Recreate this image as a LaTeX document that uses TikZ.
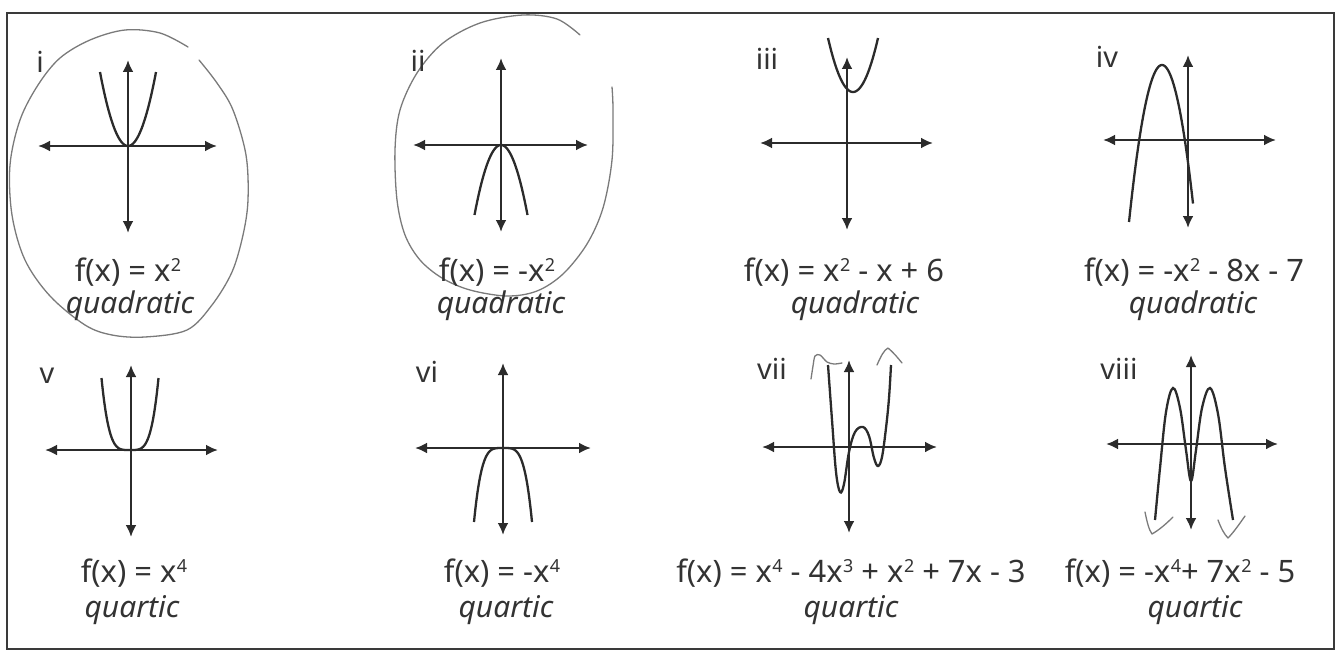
\documentclass[tikz,border=0pt]{standalone}
\usepackage{fontspec}
\setmainfont{Noto Sans}
\usetikzlibrary{arrows.meta}
\definecolor{axcol}{HTML}{2B2B2B}
\definecolor{txtcol}{HTML}{333333}
\definecolor{handcol}{HTML}{7A7A7A}
\definecolor{bordercol}{HTML}{3A3A3A}
\newcommand\sq[1]{\kern0.5bp\raisebox{10bp}{\fontsize{18}{18}\selectfont #1}}
\newcommand\myaxes[8]{%
  \coordinate (#1L) at (#2,#3); \coordinate (#1R) at (#4,#3);
  \coordinate (#1T) at (#5,#6); \coordinate (#1B) at (#5,#7);
  \draw[axis] (#1L) -- (#1R);
  \draw[axis] (#1T) -- (#1B);}
\begin{document}
\begin{tikzpicture}[x=1bp,y=-1bp,
  axis/.style={line width=2.7bp, draw=axcol, {Latex[length=12bp,width=11bp]}-{Latex[length=12bp,width=11bp]}},
  curve/.style={line width=2.3bp, draw=axcol},
  hand/.style={line width=1.3bp, draw=handcol, line cap=round, line join=round},
  roman/.style={text=txtcol, font=\fontsize{29}{30}\selectfont, inner sep=0pt, anchor=base},
  formula/.style={text=txtcol, font=\fontsize{31}{32}\selectfont, inner sep=0pt, anchor=base},
  kind/.style={text=txtcol, font=\fontsize{30}{32}\selectfont\itshape, inner sep=0pt, anchor=base}]
\useasboundingbox (0,0) rectangle (1343,653);
\draw[line width=2.5bp, draw=bordercol] (7,13) rectangle (1334,649);

% ---- axes ----
\myaxes{a}{38}{146}{217}{128}{60}{233}{}
\myaxes{b}{413}{145}{588}{501}{58}{232}{}
\myaxes{c}{760}{143}{933}{847}{57}{230}{}
\myaxes{d}{1103}{140}{1276}{1188}{55}{228}{}
\myaxes{e}{45}{450}{218}{131}{365}{537}{}
\myaxes{f}{415}{448}{591}{503}{363}{535}{}
\myaxes{g}{762}{447}{937}{849}{360}{533}{}
\myaxes{h}{1106}{444}{1278}{1191}{355}{530}{}

% ---- curves ----
\draw[curve] plot[domain=-28:28, samples=60] ({128+\x},{146-74*(\x/28)^2});
\draw[curve] plot[domain=-26.5:26.5, samples=60] ({501+\x},{145+70*(\x/26.5)^2});
\draw[curve] plot[domain=-25:25, samples=60] ({853+\x},{92-54*(\x/25)^2});
\draw[curve] plot[domain=-33:31, samples=60] ({1162+\x},{65+157*(\x/33)^2});
\draw[curve] plot[domain=-28.5:28.5, samples=80] ({130+\x},{450-72*(\x/28.5)^4});
\draw[curve] plot[domain=-29:29, samples=80] ({503+\x},{448+74*(\x/29)^4});
\draw[curve] plot[smooth, tension=0.6] coordinates {(828,365) (832,420) (836,472) (840,492) (844,484) (849,452) (855,432) (863,427) (869,436) (874,458) (878,466) (882,457) (886,428) (889,398) (891,365)};
\draw[curve] plot[smooth, tension=0.6] coordinates {(1155,520) (1160,468) (1166,412) (1173,388) (1180,408) (1186,450) (1191,481) (1196,450) (1202,408) (1210,388) (1218,414) (1225,468) (1233,520)};

% ---- handwritten marks ----
\draw[hand] plot[smooth, tension=0.55] coordinates {(188,47) (160,33) (125,30) (90,40) (60,58) (38,85) (20,120) (10,165) (12,215) (25,260) (50,296) (85,325) (112,335) (145,337) (187,330) (212,305) (232,272) (243,235) (248,200) (246,155) (233,110) (217,83) (199,60)};
\draw[hand] plot[smooth, tension=0.55] coordinates {(580,35) (557,19) (523,15) (480,23) (443,43) (417,73) (400,110) (395,150) (397,200) (405,235) (420,260) (442,278) (470,290) (507,296) (537,291) (563,274) (587,244) (603,208) (612,160) (613,110) (612,87)};
\draw[hand] plot[smooth, tension=0.5] coordinates {(811,379) (813,366) (815,356) (820,355) (827,362) (834,364) (842,363)};
\draw[hand] (877,365) .. controls (881,356) and (884,350) .. (888,348) .. controls (893,352) and (898,358) .. (902,363);
\draw[hand] (1145,512) .. controls (1147,522) and (1149,530) .. (1152,534) .. controls (1159,530) and (1166,524) .. (1173,517);
\draw[hand] (1218,520) .. controls (1221,528) and (1224,534) .. (1228,538) .. controls (1234,532) and (1240,523) .. (1245,516);

% ---- roman labels ----
\node[roman] (ri) at (40,73) {i};
\node[roman] (rii) at (418,72) {ii};
\node[roman] (riii) at (767,70) {iii};
\node[roman] (riv) at (1107,68) {iv};
\node[roman] (rv) at (47,383) {v};
\node[roman] (rvi) at (427,382) {vi};
\node[roman] (rvii) at (772,379) {vii};
\node[roman] (rviii) at (1119,379) {viii};

% ---- formulas ----
\node[formula] (fi) at (128,281) {f(x) = x\sq{2}};
\node[kind] (ki) at (130,313) {quadratic};
\node[formula] (fii) at (497,281) {f(x) = -x\sq{2}};
\node[kind] (kii) at (501,313) {quadratic};
\node[formula] (fiii) at (844,281) {f(x) = x\sq{2} - x + 6};
\node[kind] (kiii) at (855,313) {quadratic};
\node[formula] (fiv) at (1194,281) {f(x) = -x\sq{2} - 8x - 7};
\node[kind] (kiv) at (1193,313) {quadratic};
\node[formula] (fv) at (134,582) {f(x) = x\sq{4}};
\node[kind] (kv) at (132,617) {quartic};
\node[formula] (fvi) at (502,582) {f(x) = -x\sq{4}};
\node[kind] (kvi) at (506,617) {quartic};
\node[formula] (fvii) at (851,582) {f(x) = x\sq{4} - 4x\sq{3} + x\sq{2} + 7x - 3};
\node[kind] (kvii) at (851,617) {quartic};
\node[formula] (fviii) at (1180,582) {f(x) = -x\sq{4}+ 7x\sq{2} - 5};
\node[kind] (kviii) at (1195,617) {quartic};
\end{tikzpicture}
\end{document}
